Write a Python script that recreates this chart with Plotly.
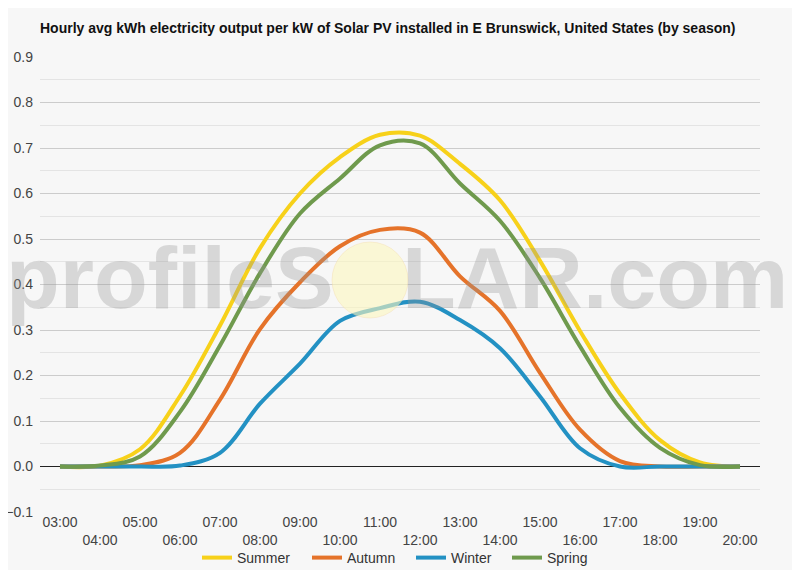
import plotly.graph_objects as go

hours = ["03:00", "04:00", "05:00", "06:00", "07:00", "08:00", "09:00", "10:00", "11:00",
         "12:00", "13:00", "14:00", "15:00", "16:00", "17:00", "18:00", "19:00", "20:00"]
summer = [0.0, 0.002, 0.038, 0.155, 0.31, 0.48, 0.60, 0.68, 0.729, 0.727, 0.665, 0.585,
          0.452, 0.298, 0.16, 0.058, 0.009, 0.0]
autumn = [0.0, 0.0, 0.003, 0.03, 0.147, 0.302, 0.405, 0.484, 0.52, 0.514, 0.418, 0.342,
          0.206, 0.081, 0.012, 0.0, 0.0, 0.0]
winter = [0.0, 0.0, 0.0, 0.002, 0.03, 0.138, 0.226, 0.32, 0.348, 0.362, 0.322, 0.26,
          0.154, 0.04, 0.0, 0.0, 0.0, 0.0]
spring = [0.0, 0.002, 0.022, 0.12, 0.266, 0.425, 0.556, 0.633, 0.706, 0.71, 0.622, 0.54,
          0.414, 0.264, 0.129, 0.041, 0.003, 0.0]

series = [("Summer", summer, "#f7d11a", 65), ("Autumn", autumn, "#e5732a", 59),
          ("Winter", winter, "#2391c3", 51), ("Spring", spring, "#6f9a4d", 51)]

x_idx = list(range(len(hours)))
ticktext = [h if i % 2 == 0 else "<br>" + h for i, h in enumerate(hours)]

fig = go.Figure()
for name, vals, color, lw in series:
    fig.add_trace(go.Scatter(x=x_idx, y=vals, name=name, mode="lines", legendwidth=lw,
                             line=dict(color=color, width=4, shape="spline", smoothing=1.0),
                             hoverinfo="skip"))

font_family = "Liberation Sans, Arial, sans-serif"

# the page body adds an 8px offset; margins below compensate for it
OFF = 8
W, H = 800, 570
plot_l, plot_r, plot_t, plot_b = 40, 760, 57, 512  # target screen positions

fig.update_layout(
    width=W, height=H,
    paper_bgcolor="#f7f7f7", plot_bgcolor="#f7f7f7",
    margin=dict(l=plot_l - OFF, r=W - plot_r + OFF, t=plot_t - OFF, b=H - plot_b + OFF,
                autoexpand=False),
    font=dict(family=font_family, size=14, color="#444"),
    title=dict(text="<b>Hourly avg kWh electricity output per kW of Solar PV installed in E Brunswick, United States (by season)</b>",
               x=(40 - OFF) / W, xanchor="left", y=1 - (28 - OFF) / H, yanchor="middle",
               font=dict(family=font_family, size=14, color="#111")),
    showlegend=True,
    legend=dict(orientation="h", x=0.5, xanchor="center", y=-(558 - plot_b) / (plot_b - plot_t),
                yanchor="middle",
                font=dict(family=font_family, size=14, color="#333"),
                bgcolor="rgba(0,0,0,0)", itemwidth=30),
    xaxis=dict(range=[-0.5, 17.5], tickmode="array", tickvals=x_idx, ticktext=ticktext,
               showgrid=False, zeroline=False, showline=False, ticks="", automargin=False,
               tickfont=dict(family=font_family, size=14, color="#444")),
    yaxis=dict(range=[-0.1, 0.9], dtick=0.1, tickformat=".1f", automargin=False,
               showgrid=True, gridcolor="#cccccc", gridwidth=1,
               minor=dict(dtick=0.05, showgrid=True, gridcolor="#e4e4e4", gridwidth=1),
               zeroline=True, zerolinecolor="#222", zerolinewidth=1,
               showline=False, ticks="", ticklabelstandoff=6,
               tickfont=dict(family=font_family, size=14, color="#444")),
)

pw = plot_r - plot_l
ph = plot_b - plot_t
# watermark
fig.add_shape(type="circle", xref="paper", yref="paper",
              x0=(332 - plot_l) / pw, x1=(408 - plot_l) / pw,
              y0=(plot_b - 318) / ph, y1=(plot_b - 242) / ph,
              fillcolor="rgba(252,246,190,0.6)", line=dict(color="rgba(245,220,170,0.4)", width=1),
              layer="above")
fig.add_annotation(
    text="<b>profileS<span style='color:rgba(0,0,0,0)'>O</span>LAR.com</b>",
    xref="paper", yref="paper", x=(397 - plot_l) / pw, y=(plot_b - 277) / ph,
    xanchor="center", yanchor="middle", showarrow=False,
    font=dict(family="Liberation Sans, Arial, sans-serif", size=88,
              color="rgba(150,150,150,0.32)"),
)

fig.write_html("out.html")
